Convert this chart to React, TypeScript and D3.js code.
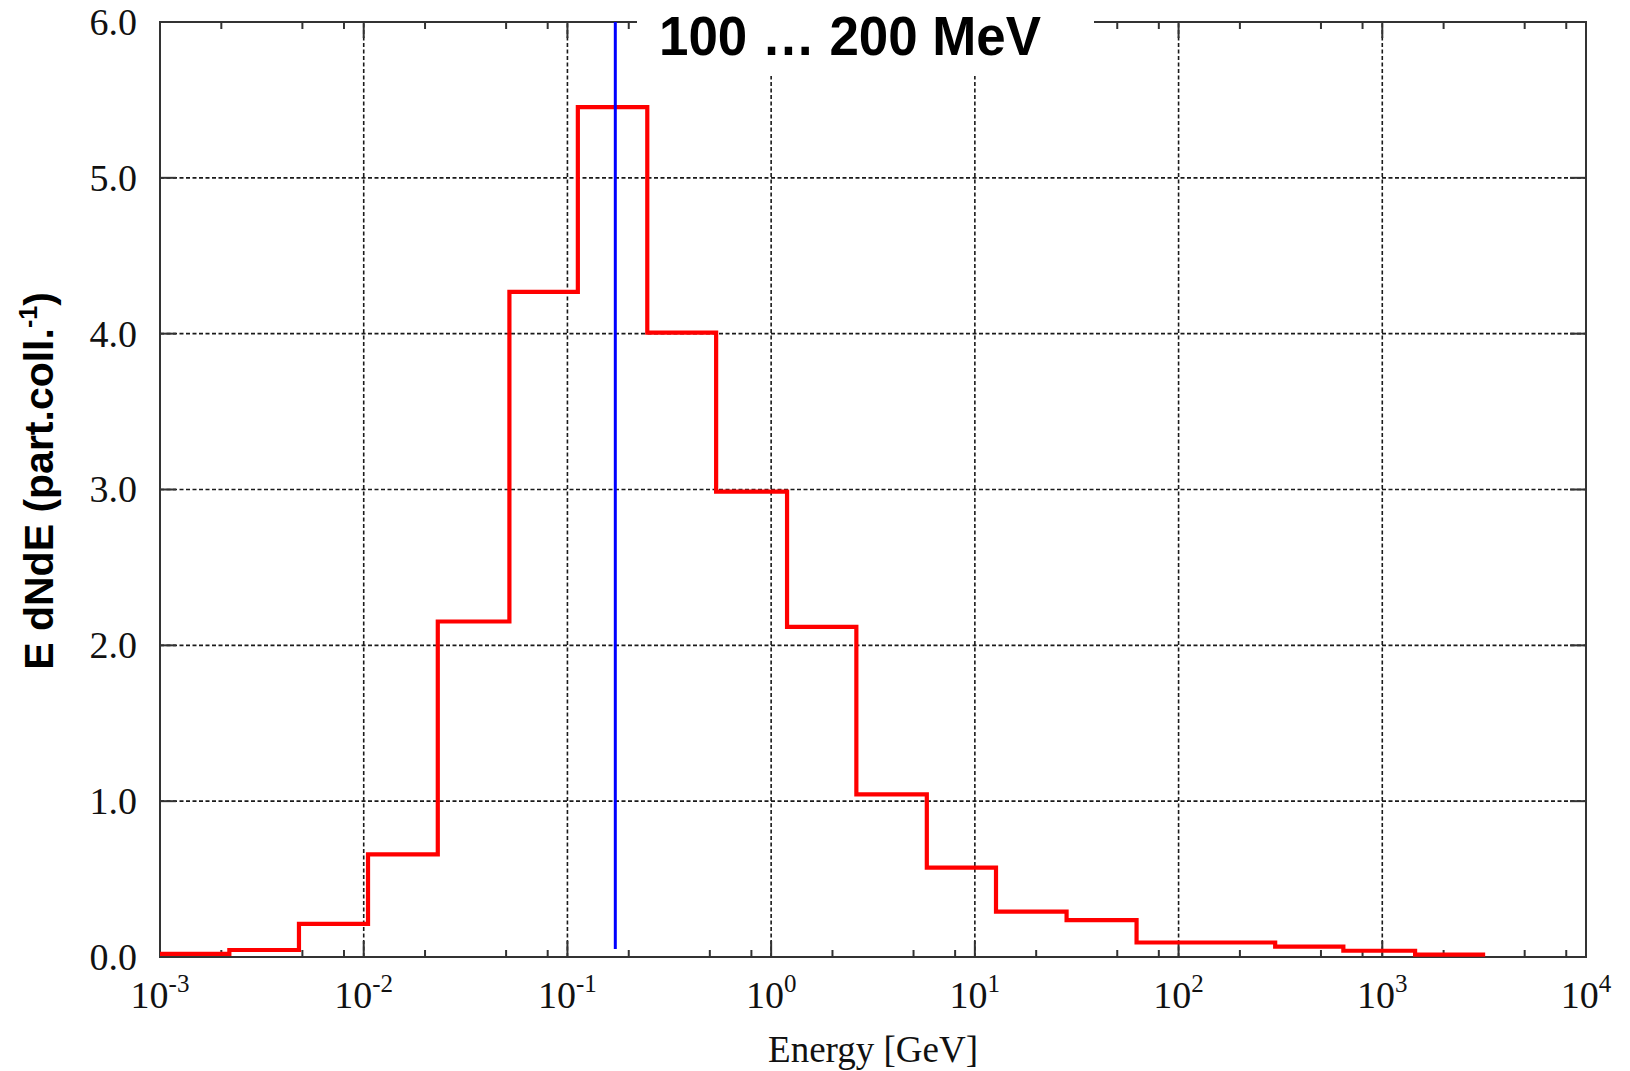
import React, { useEffect, useRef } from 'react'
import * as d3 from 'd3'

// histogram bin edges (GeV) and heights
const binEdges = [
  0.001, 0.00219, 0.00481, 0.0105, 0.0231, 0.0519, 0.1125, 0.2466, 0.537, 1.197, 2.62, 5.81, 12.7,
  28.2, 62.2, 298, 644, 1449, 3199,
]
const binValues = [
  0.02, 0.045, 0.212, 0.658, 2.153, 4.268, 5.454, 4.007, 2.987, 2.119, 1.044, 0.573, 0.291, 0.237,
  0.093, 0.066, 0.04, 0.015,
]
const markerEnergy = 0.1718
const xDecades = [-3, -2, -1, 0, 1, 2, 3, 4]
const yTicks = [0, 1, 2, 3, 4, 5, 6]
const minorFactors = [2, 5, 8]
const titleText = '100 … 200 MeV'

const App = () => {
  const svgRef = useRef<SVGSVGElement>(null)

  useEffect(() => {
    const width = 1630
    const height = 1071
    const left = 160
    const right = 1586
    const top = 22
    const bottom = 957

    const svg = d3.select(svgRef.current).attr('width', width).attr('height', height)
    svg.selectAll('*').remove()

    const x = d3.scaleLog().domain([1e-3, 1e4]).range([left, right])
    const y = d3.scaleLinear().domain([0, 6]).range([bottom, top])

    const gridColor = '#1a1a1a'
    const axisColor = '#333'
    const serif = '"Liberation Serif", "Times New Roman", serif'

    // grid lines
    const grid = svg.append('g')
    xDecades
      .filter((d) => d > -3 && d < 4)
      .forEach((d) => {
        grid
          .append('line')
          .attr('x1', x(10 ** d))
          .attr('x2', x(10 ** d))
          .attr('y1', bottom)
          .attr('y2', top)
          .attr('stroke', gridColor)
          .attr('stroke-width', 1.6)
          .attr('stroke-dasharray', '4 2.5')
      })
    yTicks
      .filter((d) => d > 0 && d < 6)
      .forEach((d) => {
        grid
          .append('line')
          .attr('x1', left)
          .attr('x2', right)
          .attr('y1', y(d))
          .attr('y2', y(d))
          .attr('stroke', gridColor)
          .attr('stroke-width', 1.6)
          .attr('stroke-dasharray', '4 2.5')
      })

    // ticks
    const ticks = svg.append('g').attr('stroke', axisColor).attr('stroke-width', 2)
    xDecades.forEach((d) => {
      const xv = x(10 ** d)
      ticks.append('line').attr('x1', xv).attr('x2', xv).attr('y1', bottom).attr('y2', bottom - 16)
      ticks.append('line').attr('x1', xv).attr('x2', xv).attr('y1', top).attr('y2', top + 16)
      if (d < 4) {
        minorFactors.forEach((m) => {
          const xm = x(m * 10 ** d)
          ticks.append('line').attr('x1', xm).attr('x2', xm).attr('y1', bottom).attr('y2', bottom - 7)
          ticks.append('line').attr('x1', xm).attr('x2', xm).attr('y1', top).attr('y2', top + 7)
        })
      }
    })
    yTicks.forEach((d) => {
      ticks.append('line').attr('x1', left).attr('x2', left + 16).attr('y1', y(d)).attr('y2', y(d))
      ticks.append('line').attr('x1', right).attr('x2', right - 16).attr('y1', y(d)).attr('y2', y(d))
    })

    // frame
    svg
      .append('rect')
      .attr('x', left)
      .attr('y', top)
      .attr('width', right - left)
      .attr('height', bottom - top)
      .attr('fill', 'none')
      .attr('stroke', axisColor)
      .attr('stroke-width', 2)

    // histogram
    const points: [number, number][] = binValues.map((v, i) => [binEdges[i], v])
    points.push([binEdges[binEdges.length - 1], binValues[binValues.length - 1]])
    const line = d3
      .line<[number, number]>()
      .x((d) => x(d[0]))
      .y((d) => y(d[1]))
      .curve(d3.curveStepAfter)
    svg
      .append('path')
      .attr('d', line(points))
      .attr('fill', 'none')
      .attr('stroke', '#ff0000')
      .attr('stroke-width', 4.2)

    // marker line
    svg
      .append('line')
      .attr('x1', x(markerEnergy))
      .attr('x2', x(markerEnergy))
      .attr('y1', top)
      .attr('y2', bottom - 8)
      .attr('stroke', '#0000ff')
      .attr('stroke-width', 3)

    // title with white backing
    svg.append('rect').attr('x', 637).attr('y', 0).attr('width', 457).attr('height', 76).attr('fill', 'white')
    svg
      .append('text')
      .attr('x', 850)
      .attr('y', 55)
      .attr('text-anchor', 'middle')
      .attr('textLength', 382)
      .attr('lengthAdjust', 'spacingAndGlyphs')
      .style('font-family', '"Liberation Sans", Arial, sans-serif')
      .style('font-weight', 'bold')
      .style('font-size', '56px')
      .text(titleText)

    // y tick labels
    yTicks.forEach((d) => {
      svg
        .append('text')
        .attr('x', 137)
        .attr('y', y(d))
        .attr('dy', '0.34em')
        .attr('text-anchor', 'end')
        .style('font-family', serif)
        .style('font-size', '38px')
        .attr('fill', '#111')
        .text(d.toFixed(1))
    })

    // x tick labels 10^n
    xDecades.forEach((d) => {
      const t = svg
        .append('text')
        .attr('x', x(10 ** d))
        .attr('y', 1008)
        .attr('text-anchor', 'middle')
        .style('font-family', serif)
        .style('font-size', '38px')
        .attr('fill', '#111')
      t.append('tspan').text('10')
      t.append('tspan').attr('dy', -16).style('font-size', '25px').text(String(d))
    })

    // x axis title
    svg
      .append('text')
      .attr('x', 873)
      .attr('y', 1062)
      .attr('text-anchor', 'middle')
      .style('font-family', serif)
      .style('font-size', '37px')
      .attr('fill', '#111')
      .text('Energy [GeV]')

    // y axis title
    const yt = svg
      .append('text')
      .attr('transform', `translate(53, 481) rotate(-90)`)
      .attr('text-anchor', 'middle')
      .style('font-family', '"Liberation Sans", Arial, sans-serif')
      .style('font-weight', 'bold')
      .style('font-size', '41px')
    yt.append('tspan').text('E dNdE (part.coll.')
    yt.append('tspan').attr('dy', -16).style('font-size', '25px').text('-1')
    yt.append('tspan').attr('dy', 16).text(')')
  }, [])

  return (
    <div style={{ position: 'absolute', left: 0, top: 0 }}>
      <svg ref={svgRef} style={{ display: 'block', background: 'white' }}></svg>
    </div>
  )
}

export default App
